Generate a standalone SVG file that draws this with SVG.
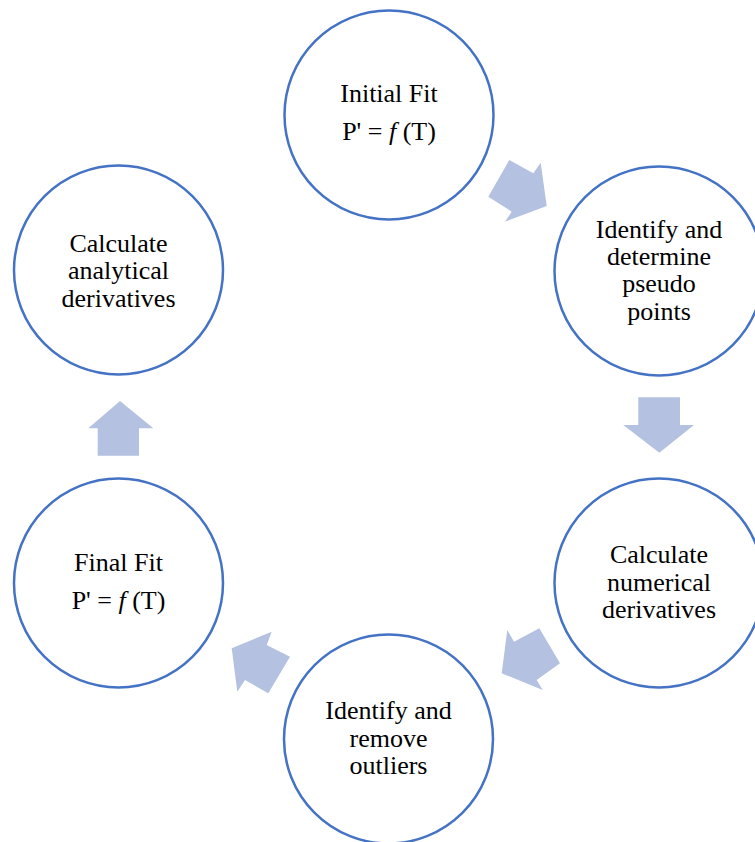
<svg xmlns="http://www.w3.org/2000/svg" width="755" height="842" viewBox="0 0 755 842">
<style>
.node{fill:#ffffff;stroke:#4472C4;stroke-width:2.5}
.lbl{font-family:"Liberation Serif","Times New Roman",serif;font-size:26px;fill:#000000;text-anchor:middle}
.it{font-style:italic}
.arr{fill:#B4C1E1;stroke:none}
</style>
<rect width="755" height="842" fill="#ffffff"/>
<g id="connectors">
<polygon class="arr" points="509.3,160 533.3,173.3 540.7,162.7 546.7,206 505,221.7 511.7,211.7 488.3,196.7"/>
<polygon class="arr" points="638.3,397.3 680,397.3 680,425 694,425 659.3,452.7 623.3,425 638.3,425"/>
<polygon class="arr" points="539.3,628.3 560,663.3 536.7,680 542.7,690 501.7,673.3 507.3,630 514,641.7"/>
<polygon class="arr" points="290,656.7 268.3,693.3 245,680 237.3,691.7 231.7,648.3 271.7,631.7 266.7,645"/>
<polygon class="arr" points="120,401 153.3,428.3 139,428.3 139,455.7 97.7,455.7 97.7,428.3 88.3,428.3"/>
</g>
<g id="node-initial-fit">
<circle class="node" cx="389" cy="115" r="104.5"/>
<text class="lbl" x="389" y="102">Initial Fit</text>
<text class="lbl" x="389" y="140">P' = <tspan class="it">f</tspan> (T)</text>
</g>
<g id="node-pseudo-points">
<circle class="node" cx="659" cy="271" r="104.5"/>
<text class="lbl" x="659" y="237.5">Identify and</text>
<text class="lbl" x="659" y="264.5">determine</text>
<text class="lbl" x="659" y="292">pseudo</text>
<text class="lbl" x="659" y="319.5">points</text>
</g>
<g id="node-numerical">
<circle class="node" cx="659" cy="583" r="104.5"/>
<text class="lbl" x="659" y="563.3">Calculate</text>
<text class="lbl" x="659" y="590.7">numerical</text>
<text class="lbl" x="659" y="618">derivatives</text>
</g>
<g id="node-outliers">
<circle class="node" cx="388.5" cy="739" r="104.5"/>
<text class="lbl" x="388.5" y="719.3">Identify and</text>
<text class="lbl" x="388.5" y="746.7">remove</text>
<text class="lbl" x="388.5" y="774">outliers</text>
</g>
<g id="node-final-fit">
<circle class="node" cx="118.5" cy="583" r="104.5"/>
<text class="lbl" x="118.5" y="570.7">Final Fit</text>
<text class="lbl" x="118.5" y="609">P' = <tspan class="it">f</tspan> (T)</text>
</g>
<g id="node-analytical">
<circle class="node" cx="118.5" cy="270" r="104.5"/>
<text class="lbl" x="118.5" y="251.7">Calculate</text>
<text class="lbl" x="118.5" y="279.3">analytical</text>
<text class="lbl" x="118.5" y="306.7">derivatives</text>
</g>
</svg>
